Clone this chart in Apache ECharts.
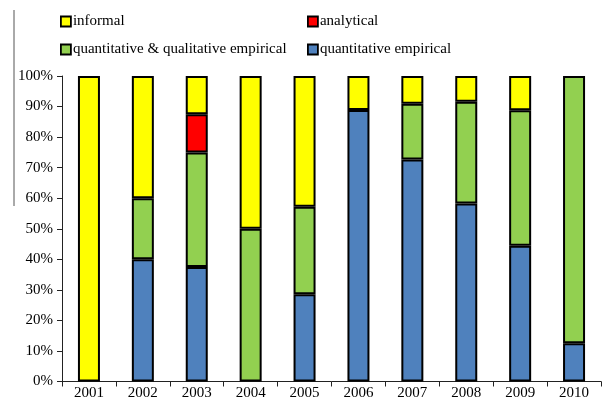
<!DOCTYPE html>
<html>
<head>
<meta charset="utf-8">
<script src="https://cdn.jsdelivr.net/npm/echarts@6/dist/echarts.min.js"></script>
<style>
  html, body { margin: 0; padding: 0; background: #fff; }
  #chart { width: 603px; height: 406px; }
</style>
</head>
<body>
<div id="chart"></div>
<script>
// Share of papers by research approach, per year (percent of each year's total)
const years = ['2001', '2002', '2003', '2004', '2005', '2006', '2007', '2008', '2009', '2010'];
const quantEmpirical   = [0, 40, 37.5, 0, 28.6, 88.9, 72.7, 58.3, 44.4, 12.5];
const quantQualEmpir   = [0, 20, 37.5, 50, 28.6, 0, 18.2, 33.3, 44.4, 87.5];
const analytical       = [0, 0, 12.5, 0, 0, 0, 0, 0, 0, 0];
const informal         = [100, 40, 12.5, 50, 42.8, 11.1, 9.1, 8.4, 11.2, 0];
const yTicks = [0, 10, 20, 30, 40, 50, 60, 70, 80, 90, 100];

const serif = '"Liberation Serif", "Times New Roman", serif';
const edge = '#000';

function stackSeries(name, values, color) {
  return {
    name: name,
    type: 'bar',
    stack: 'share',
    barWidth: 22,
    data: values.map(v => (v === 0 ? null : v)),
    itemStyle: { color: color, borderColor: edge, borderWidth: 2 },
    emphasis: { disabled: true }
  };
}

const legendBase = {
  orient: 'vertical', top: 14, itemGap: 13, padding: 0,
  itemWidth: 10, itemHeight: 10, icon: 'rect',
  itemStyle: { borderColor: edge, borderWidth: 1.8 },
  textStyle: { fontFamily: serif, fontSize: 15, color: '#000', padding: [0, 0, 0, -3] }
};

const chart = echarts.init(document.getElementById('chart'), null, { renderer: 'canvas' });
chart.setOption({
  animation: false,
  backgroundColor: '#fff',
  grid: { left: 62, right: 2, top: 76, bottom: 24.5, containLabel: false },
  legend: [
    Object.assign({}, legendBase, { left: 60, data: ['informal', 'quantitative & qualitative empirical'] }),
    Object.assign({}, legendBase, { left: 307, data: ['analytical', 'quantitative empirical'] })
  ],
  xAxis: {
    type: 'category',
    data: years,
    axisLine: { lineStyle: { color: '#222', width: 1 } },
    axisTick: { show: true, interval: 0, alignWithLabel: false, length: 5, lineStyle: { color: '#222' } },
    axisLabel: { fontFamily: serif, fontSize: 15, color: '#000', margin: 4, interval: 0 }
  },
  yAxis: {
    type: 'value',
    min: yTicks[0],
    max: yTicks[yTicks.length - 1],
    interval: 10,
    axisLine: { show: true, lineStyle: { color: '#222', width: 1 } },
    axisTick: { show: true, length: 5, lineStyle: { color: '#222' } },
    splitLine: { show: false },
    axisLabel: { fontFamily: serif, fontSize: 15, color: '#000', margin: 9, formatter: '{value}%' }
  },
  graphic: [
    {
      type: 'line',
      shape: { x1: 14, y1: 10, x2: 14, y2: 206 },
      style: { stroke: '#555', lineWidth: 1 }
    }
  ],
  series: [
    stackSeries('quantitative empirical', quantEmpirical, '#4F81BD'),
    stackSeries('quantitative & qualitative empirical', quantQualEmpir, '#92D050'),
    stackSeries('analytical', analytical, '#FF0000'),
    stackSeries('informal', informal, '#FFFF00')
  ]
});
</script>
</body>
</html>
